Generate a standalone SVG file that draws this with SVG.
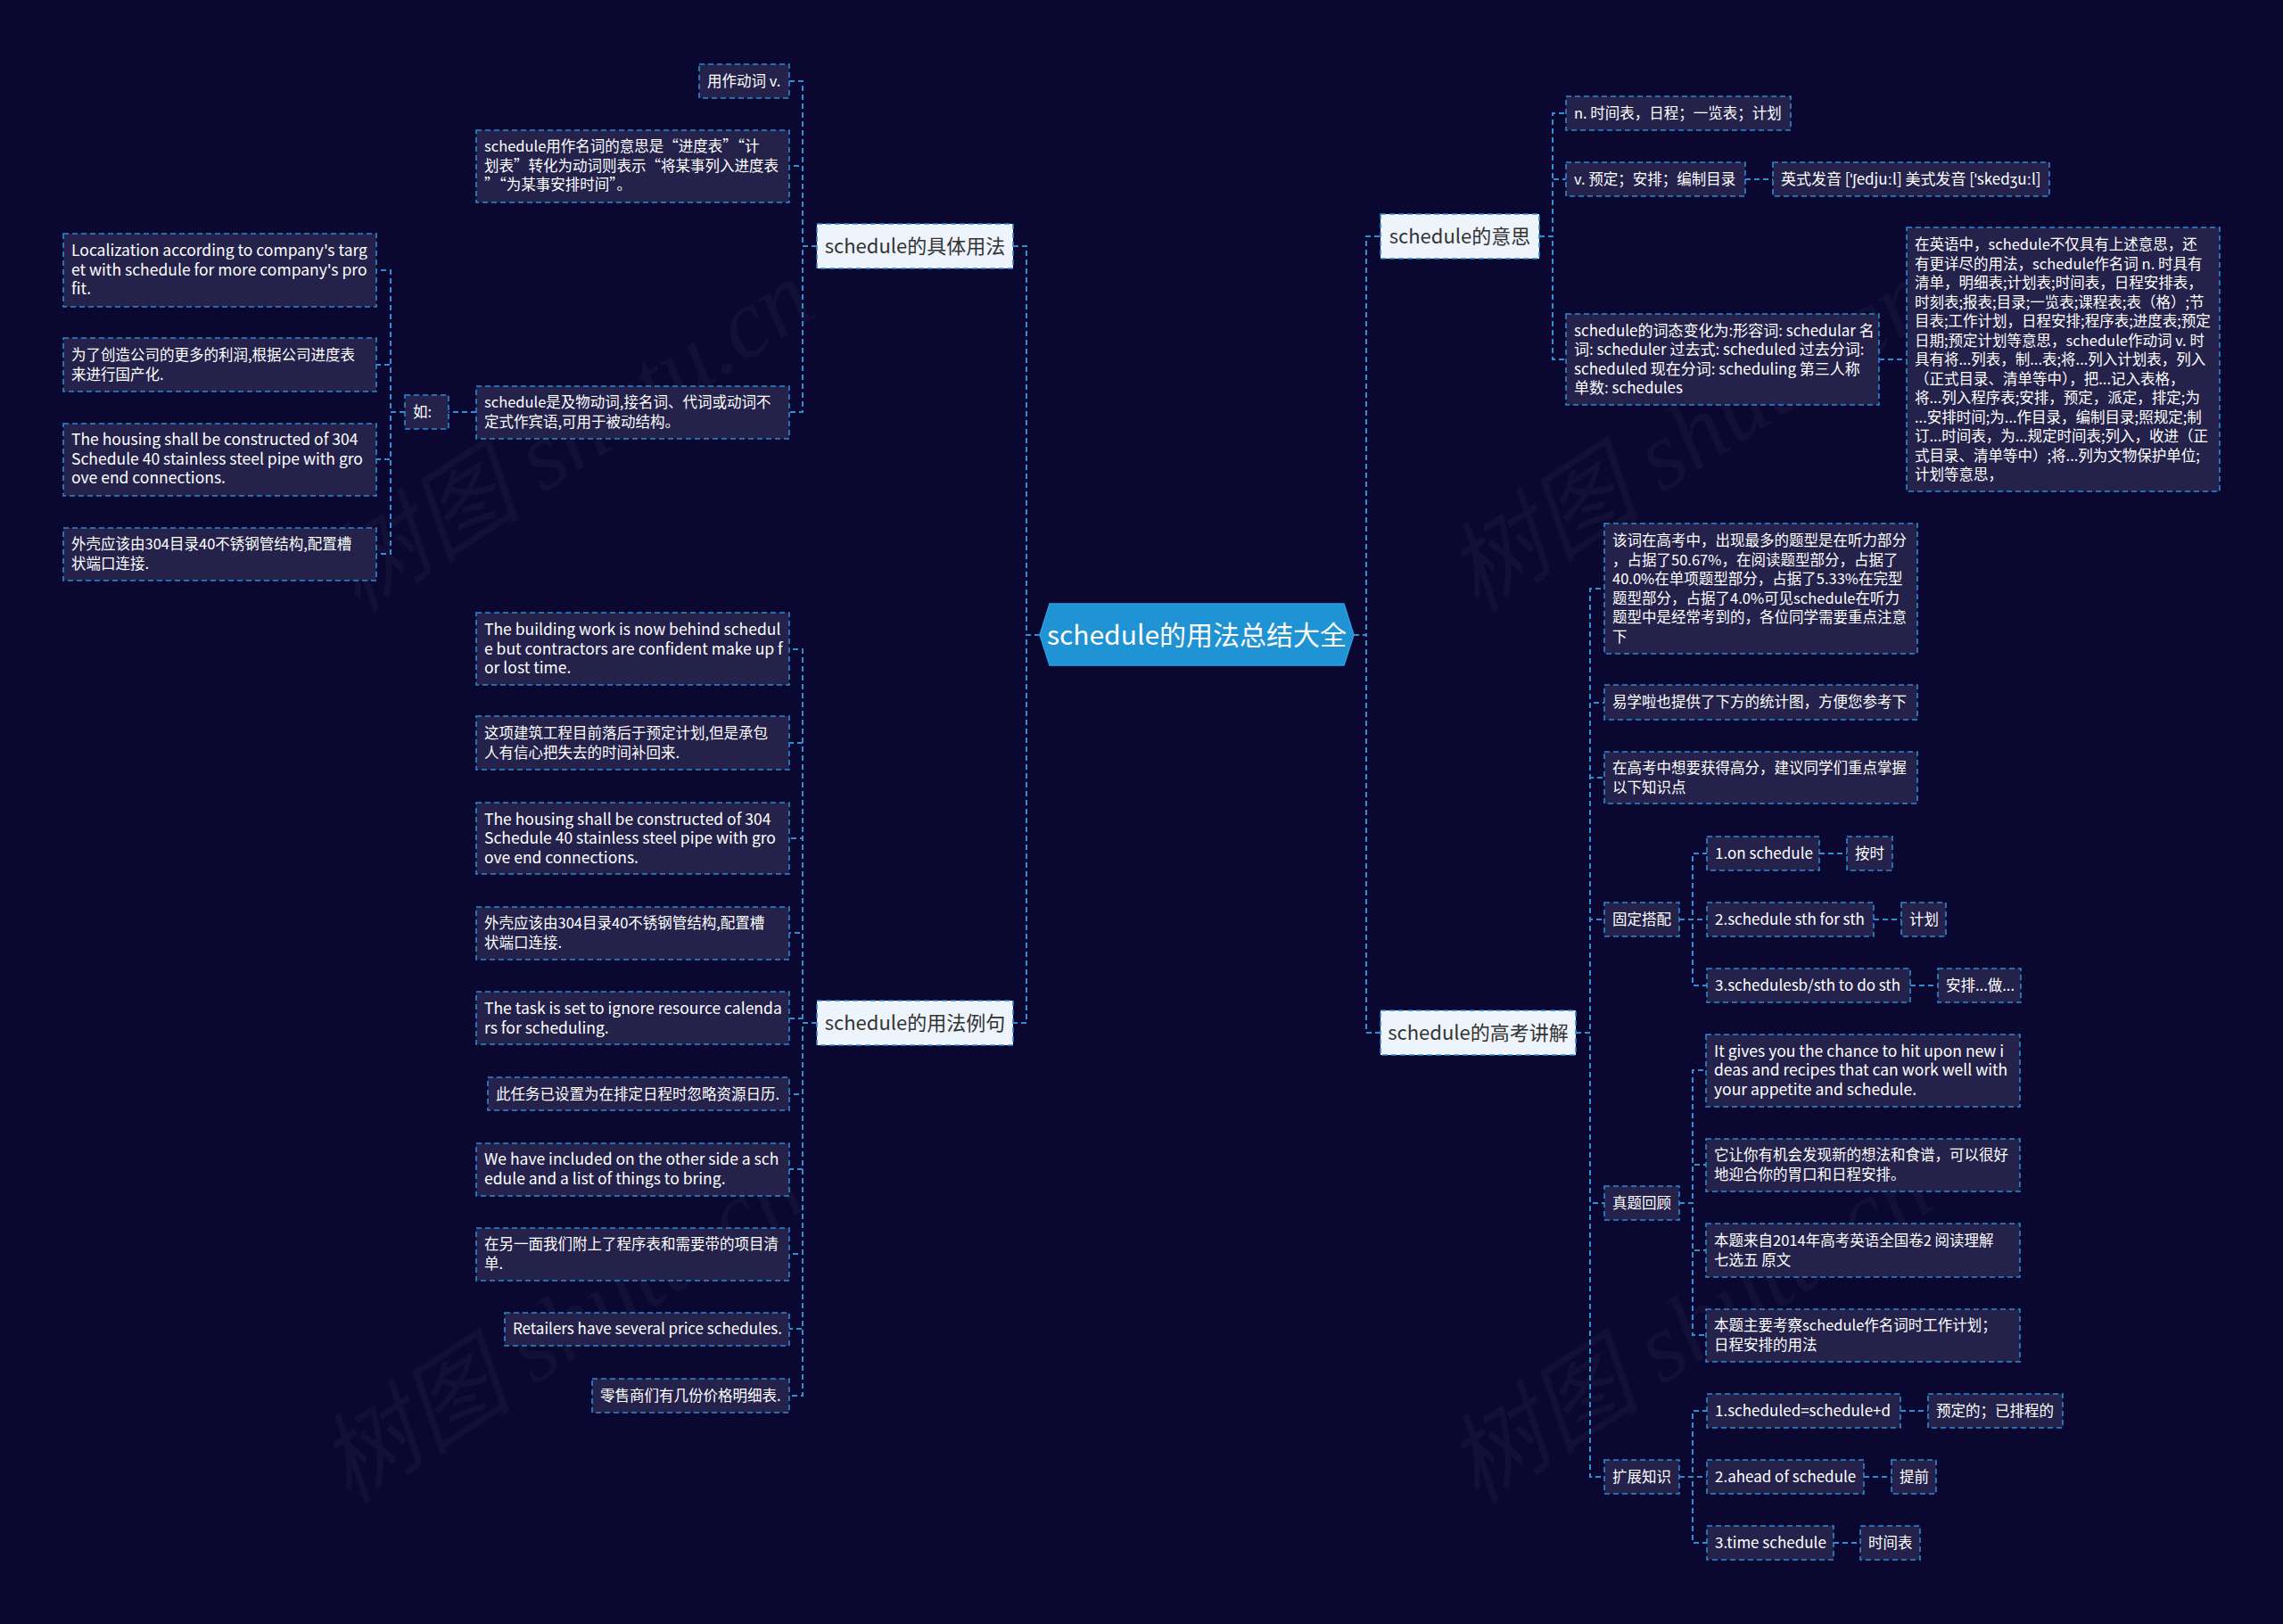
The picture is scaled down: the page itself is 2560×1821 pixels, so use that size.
<svg xmlns="http://www.w3.org/2000/svg" width="2560" height="1821" viewBox="0 0 2560 1821">
<style>
.bg{fill:#0a0830}
.wm{font-family:"Liberation Serif","Noto Sans CJK SC",serif;font-style:italic;font-size:110px;fill:#ffffff;fill-opacity:0.035}
.leaf rect{fill:#24214b;stroke:#2f88cf;stroke-width:1.6;stroke-dasharray:6 4}
.leaf text{font-family:"Noto Sans CJK SC","Noto Sans",sans-serif;font-size:16.5px;fill:#ffffff}
.leaf text.en{font-size:17.5px}
.leaf text.lb{font-size:17px}
.main rect{fill:#eef4fc;stroke:#2f88cf;stroke-width:1.6;stroke-dasharray:6 4}
.main text{font-family:"Noto Sans CJK SC","Noto Sans",sans-serif;font-size:22px;fill:#333333;text-anchor:middle}
.root polygon{fill:#1f93d4;stroke:#2ba0e2;stroke-width:1.5}
.root text{font-family:"Noto Sans CJK SC","Noto Sans",sans-serif;font-size:30px;fill:#ffffff;text-anchor:middle}
#connectors path{fill:none;stroke:#338dd2;stroke-width:2;stroke-dasharray:6 4}
</style>
<rect class="bg" x="0" y="0" width="2560" height="1821"/>
<g id="watermarks">
<text class="wm" transform="translate(660,520) rotate(-33)" text-anchor="middle">树图 shutu.cn</text>
<text class="wm" transform="translate(1915,520) rotate(-33)" text-anchor="middle">树图 shutu.cn</text>
<text class="wm" transform="translate(650,1520) rotate(-33)" text-anchor="middle">树图 shutu.cn</text>
<text class="wm" transform="translate(1915,1520) rotate(-33)" text-anchor="middle">树图 shutu.cn</text>
</g>
<g id="connectors">
<path d="M1166,712 H1151 V276 H1136"/>
<path d="M1166,712 H1151 V1147 H1136"/>
<path d="M1518,712 H1532 V265 H1548"/>
<path d="M1518,712 H1532 V1158 H1548"/>
<path d="M916,276 H900 V91 H885"/>
<path d="M916,276 H900 V186 H885"/>
<path d="M916,276 H900 V462 H885"/>
<path d="M534,462 H503"/>
<path d="M454,462 H438 V303 H422"/>
<path d="M454,462 H438 V409 H422"/>
<path d="M454,462 H438 V515 H422"/>
<path d="M454,462 H438 V621 H422"/>
<path d="M916,1147 H900 V728 H885"/>
<path d="M916,1147 H900 V833 H885"/>
<path d="M916,1147 H900 V940 H885"/>
<path d="M916,1147 H900 V1046 H885"/>
<path d="M916,1147 H900 V1142 H885"/>
<path d="M916,1147 H900 V1227 H885"/>
<path d="M916,1147 H900 V1311 H885"/>
<path d="M916,1147 H900 V1406 H885"/>
<path d="M916,1147 H900 V1490 H885"/>
<path d="M916,1147 H900 V1565 H885"/>
<path d="M1726,265 H1741 V127 H1756"/>
<path d="M1726,265 H1741 V201 H1756"/>
<path d="M1726,265 H1741 V403 H1756"/>
<path d="M1957,201 H1988"/>
<path d="M2107,403 H2138"/>
<path d="M1767,1158 H1783 V660 H1799"/>
<path d="M1767,1158 H1783 V788 H1799"/>
<path d="M1767,1158 H1783 V872 H1799"/>
<path d="M1767,1158 H1783 V1031 H1799"/>
<path d="M1767,1158 H1783 V1349 H1799"/>
<path d="M1767,1158 H1783 V1656 H1799"/>
<path d="M1883,1031 H1898 V957 H1914"/>
<path d="M1883,1031 H1898 V1031 H1914"/>
<path d="M1883,1031 H1898 V1105 H1914"/>
<path d="M2040,957 H2071"/>
<path d="M2101,1031 H2132"/>
<path d="M2142,1105 H2173"/>
<path d="M1883,1349 H1898 V1200 H1913"/>
<path d="M1883,1349 H1898 V1306 H1913"/>
<path d="M1883,1349 H1898 V1402 H1913"/>
<path d="M1883,1349 H1898 V1497 H1913"/>
<path d="M1883,1656 H1898 V1582 H1914"/>
<path d="M1883,1656 H1898 V1656 H1914"/>
<path d="M1883,1656 H1898 V1730 H1914"/>
<path d="M2131,1582 H2162"/>
<path d="M2090,1656 H2121"/>
<path d="M2056,1730 H2086"/>
</g>

<g id="root" class="root">
<polygon points="1166,712 1177,677 1507,677 1518,712 1507,746 1177,746"/>
<text x="1342" y="723">schedule的用法总结大全</text>
</g>

<g id="b-usage" class="main"><rect x="916" y="251" width="220" height="50"/><text x="1026" y="284">schedule的具体用法</text></g>
<g id="b-examples" class="main"><rect x="916" y="1122" width="220" height="50"/><text x="1026" y="1155">schedule的用法例句</text></g>
<g id="b-meaning" class="main"><rect x="1548" y="240" width="178" height="50"/><text x="1637" y="273">schedule的意思</text></g>
<g id="b-exam" class="main"><rect x="1548" y="1133" width="219" height="50"/><text x="1657.5" y="1166">schedule的高考讲解</text></g>

<g id="u1" class="leaf"><rect x="784" y="72" width="101" height="38"/><text x="793" y="97">用作动词 v.</text></g>
<g id="u2" class="leaf"><rect x="534" y="146" width="351" height="81"/><text x="543" y="170">schedule用作名词的意思是“进度表”“计</text><text x="543" y="191.5">划表”转化为动词则表示“将某事列入进度表</text><text x="543" y="213">”“为某事安排时间”。</text></g>
<g id="u3" class="leaf"><rect x="534" y="433" width="351" height="59"/><text x="543" y="457">schedule是及物动词,接名词、代词或动词不</text><text x="543" y="478.5">定式作宾语,可用于被动结构。</text></g>
<g id="u-ru" class="leaf"><rect x="454" y="443" width="49" height="38"/><text x="463" y="468">如:</text></g>
<g id="r1" class="leaf"><rect x="71" y="262" width="351" height="82"/><text class="en" x="80" y="287">Localization according to company's targ</text><text class="en" x="80" y="308.5">et with schedule for more company's pro</text><text class="en" x="80" y="330">fit.</text></g>
<g id="r2" class="leaf"><rect x="71" y="379" width="351" height="60"/><text x="80" y="404">为了创造公司的更多的利润,根据公司进度表</text><text x="80" y="425.5">来进行国产化.</text></g>
<g id="r3" class="leaf"><rect x="71" y="475" width="351" height="81"/><text class="en" x="80" y="499">The housing shall be constructed of 304</text><text class="en" x="80" y="520.5">Schedule 40 stainless steel pipe with gro</text><text class="en" x="80" y="542">ove end connections.</text></g>
<g id="r4" class="leaf"><rect x="71" y="592" width="351" height="59"/><text x="80" y="616">外壳应该由304目录40不锈钢管结构,配置槽</text><text x="80" y="637.5">状端口连接.</text></g>

<g id="e1" class="leaf"><rect x="534" y="687" width="351" height="81"/><text class="en" x="543" y="712">The building work is now behind schedul</text><text class="en" x="543" y="733.5">e but contractors are confident make up f</text><text class="en" x="543" y="755">or lost time.</text></g>
<g id="e2" class="leaf"><rect x="534" y="803" width="351" height="60"/><text x="543" y="828">这项建筑工程目前落后于预定计划,但是承包</text><text x="543" y="849.5">人有信心把失去的时间补回来.</text></g>
<g id="e3" class="leaf"><rect x="534" y="900" width="351" height="80"/><text class="en" x="543" y="924.5">The housing shall be constructed of 304</text><text class="en" x="543" y="946">Schedule 40 stainless steel pipe with gro</text><text class="en" x="543" y="967.5">ove end connections.</text></g>
<g id="e4" class="leaf"><rect x="534" y="1017" width="351" height="59"/><text x="543" y="1041">外壳应该由304目录40不锈钢管结构,配置槽</text><text x="543" y="1062.5">状端口连接.</text></g>
<g id="e5" class="leaf"><rect x="534" y="1112" width="351" height="59"/><text class="en" x="543" y="1137">The task is set to ignore resource calenda</text><text class="en" x="543" y="1158.5">rs for scheduling.</text></g>
<g id="e6" class="leaf"><rect x="547" y="1208" width="338" height="37"/><text x="556" y="1233">此任务已设置为在排定日程时忽略资源日历.</text></g>
<g id="e7" class="leaf"><rect x="534" y="1282" width="351" height="59"/><text class="en" x="543" y="1306">We have included on the other side a sch</text><text class="en" x="543" y="1327.5">edule and a list of things to bring.</text></g>
<g id="e8" class="leaf"><rect x="534" y="1377" width="351" height="59"/><text x="543" y="1401">在另一面我们附上了程序表和需要带的项目清</text><text x="543" y="1422.5">单.</text></g>
<g id="e9" class="leaf"><rect x="566" y="1472" width="319" height="37"/><text class="lb" x="575" y="1496">Retailers have several price schedules.</text></g>
<g id="e10" class="leaf"><rect x="664" y="1546" width="221" height="38"/><text x="673" y="1571">零售商们有几份价格明细表.</text></g>

<g id="m1" class="leaf"><rect x="1756" y="108" width="252" height="38"/><text x="1765" y="133">n. 时间表，日程；一览表；计划</text></g>
<g id="m2" class="leaf"><rect x="1756" y="182" width="201" height="38"/><text x="1765" y="207">v. 预定；安排；编制目录</text></g>
<g id="m2a" class="leaf"><rect x="1988" y="182" width="310" height="38"/><text class="lb" x="1997" y="207">英式发音 [ˈʃedjuːl] 美式发音 [ˈskedʒuːl]</text></g>
<g id="m3" class="leaf"><rect x="1756" y="352" width="351" height="102"/><text class="lb" x="1765" y="376.5">schedule的词态变化为:形容词: schedular 名</text><text class="lb" x="1765" y="398">词: scheduler 过去式: scheduled 过去分词:</text><text class="lb" x="1765" y="419.5">scheduled 现在分词: scheduling 第三人称</text><text class="lb" x="1765" y="441">单数: schedules</text></g>
<g id="m3a" class="leaf"><rect x="2138" y="255" width="351" height="296"/>
<text x="2147" y="280">在英语中，schedule不仅具有上述意思，还</text>
<text x="2147" y="301.5">有更详尽的用法，schedule作名词 n. 时具有</text>
<text x="2147" y="323">清单，明细表;计划表;时间表，日程安排表，</text>
<text x="2147" y="344.5">时刻表;报表;目录;一览表;课程表;表（格）;节</text>
<text x="2147" y="366">目表;工作计划，日程安排;程序表;进度表;预定</text>
<text x="2147" y="387.5">日期;预定计划等意思，schedule作动词 v. 时</text>
<text x="2147" y="409">具有将...列表，制...表;将...列入计划表，列入</text>
<text x="2147" y="430.5">（正式目录、清单等中），把...记入表格，</text>
<text x="2147" y="452">将...列入程序表;安排，预定，派定，排定;为</text>
<text x="2147" y="473.5">...安排时间;为...作目录，编制目录;照规定;制</text>
<text x="2147" y="495">订...时间表，为...规定时间表;列入，收进（正</text>
<text x="2147" y="516.5">式目录、清单等中）;将...列为文物保护单位;</text>
<text x="2147" y="538">计划等意思，</text>
</g>

<g id="g1" class="leaf"><rect x="1799" y="587" width="351" height="146"/>
<text x="1808" y="612">该词在高考中，出现最多的题型是在听力部分</text>
<text x="1808" y="633.5">，占据了50.67%，在阅读题型部分，占据了</text>
<text x="1808" y="655">40.0%在单项题型部分，占据了5.33%在完型</text>
<text x="1808" y="676.5">题型部分，占据了4.0%可见schedule在听力</text>
<text x="1808" y="698">题型中是经常考到的，各位同学需要重点注意</text>
<text x="1808" y="719.5">下</text>
</g>
<g id="g2" class="leaf"><rect x="1799" y="768" width="351" height="39"/><text x="1808" y="793">易学啦也提供了下方的统计图，方便您参考下</text></g>
<g id="g3" class="leaf"><rect x="1799" y="843" width="351" height="58"/><text x="1808" y="867">在高考中想要获得高分，建议同学们重点掌握</text><text x="1808" y="888.5">以下知识点</text></g>
<g id="g4" class="leaf"><rect x="1799" y="1012" width="84" height="38"/><text x="1808" y="1037">固定搭配</text></g>
<g id="g4a" class="leaf"><rect x="1914" y="938" width="126" height="38"/><text class="lb" x="1923" y="963">1.on schedule</text></g>
<g id="g4a1" class="leaf"><rect x="2071" y="938" width="51" height="38"/><text x="2080" y="963">按时</text></g>
<g id="g4b" class="leaf"><rect x="1914" y="1012" width="187" height="38"/><text class="lb" x="1923" y="1037">2.schedule sth for sth</text></g>
<g id="g4b1" class="leaf"><rect x="2132" y="1012" width="50" height="38"/><text x="2141" y="1037">计划</text></g>
<g id="g4c" class="leaf"><rect x="1914" y="1086" width="228" height="38"/><text class="lb" x="1923" y="1111">3.schedulesb/sth to do sth</text></g>
<g id="g4c1" class="leaf"><rect x="2173" y="1086" width="93" height="38"/><text x="2182" y="1111">安排...做...</text></g>
<g id="g5" class="leaf"><rect x="1799" y="1330" width="84" height="38"/><text x="1808" y="1355">真题回顾</text></g>
<g id="g5a" class="leaf"><rect x="1913" y="1160" width="352" height="81"/><text class="en" x="1922" y="1184.5">It gives you the chance to hit upon new i</text><text class="en" x="1922" y="1206">deas and recipes that can work well with</text><text class="en" x="1922" y="1227.5">your appetite and schedule.</text></g>
<g id="g5b" class="leaf"><rect x="1913" y="1277" width="352" height="59"/><text x="1922" y="1301">它让你有机会发现新的想法和食谱，可以很好</text><text x="1922" y="1322.5">地迎合你的胃口和日程安排。</text></g>
<g id="g5c" class="leaf"><rect x="1913" y="1372" width="352" height="60"/><text x="1922" y="1397">本题来自2014年高考英语全国卷2 阅读理解</text><text x="1922" y="1418.5">七选五 原文</text></g>
<g id="g5d" class="leaf"><rect x="1913" y="1468" width="352" height="59"/><text x="1922" y="1492">本题主要考察schedule作名词时工作计划；</text><text x="1922" y="1513.5">日程安排的用法</text></g>
<g id="g6" class="leaf"><rect x="1799" y="1637" width="84" height="38"/><text x="1808" y="1662">扩展知识</text></g>
<g id="g6a" class="leaf"><rect x="1914" y="1563" width="217" height="38"/><text class="lb" x="1923" y="1588">1.scheduled=schedule+d</text></g>
<g id="g6a1" class="leaf"><rect x="2162" y="1563" width="151" height="38"/><text x="2171" y="1588">预定的；已排程的</text></g>
<g id="g6b" class="leaf"><rect x="1914" y="1637" width="176" height="38"/><text class="lb" x="1923" y="1662">2.ahead of schedule</text></g>
<g id="g6b1" class="leaf"><rect x="2121" y="1637" width="50" height="38"/><text x="2130" y="1662">提前</text></g>
<g id="g6c" class="leaf"><rect x="1914" y="1711" width="142" height="38"/><text class="lb" x="1923" y="1736">3.time schedule</text></g>
<g id="g6c1" class="leaf"><rect x="2086" y="1711" width="67" height="38"/><text x="2095" y="1736">时间表</text></g>
</svg>
